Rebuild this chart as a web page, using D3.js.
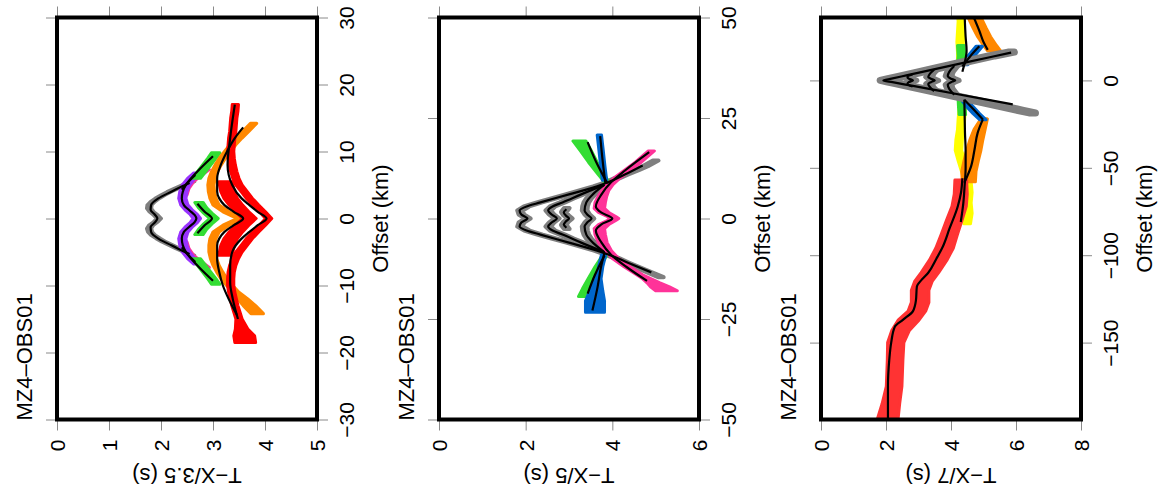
<!DOCTYPE html>
<html>
<head>
<meta charset="utf-8">
<script src="https://cdn.jsdelivr.net/npm/d3@7"></script>
<style>
  body { margin: 0; background: #fff; }
  svg { display: block; font-family: 'Liberation Sans', Arial, Helvetica, sans-serif; }
  .tick line { stroke: #8a8a8a; stroke-width: 1; }
</style>
</head>
<body>
<svg id="fig" width="1164" height="498"></svg>
<script>
// ---------- data: [offset km, reduced time s, optional half error s] ----------
const stationName = "MZ4–OBS01";

// panel 1 : T-X/3.5
const p1TimeTicks = [0, 1, 2, 3, 4, 5];
const p1OffsetTicks = [-30, -20, -10, 0, 10, 20, 30];
const p1GrayPicks = [[-5.5,2.6],[-5,2.48],[-4.5,2.33],[-4,2.2],[-3.5,2.06],[-3,1.95],[-2.5,1.85],[-2,1.79],[-1.5,1.77],[-1,1.81],[-0.5,1.9],[0,1.96],[0.5,1.9],[1,1.82],[1.5,1.77],[2,1.78],[2.5,1.84],[3,1.93],[3.5,2.04],[4,2.16],[4.5,2.3],[5,2.45],[5.5,2.6]];
const p1PinkPicks = [[-7.3,2.86],[-6.5,2.72],[-5.5,2.56],[-4.5,2.47],[-3.5,2.43],null,[3.5,2.43],[4.5,2.47],[5.5,2.56],[6.5,2.72],[7.3,2.86]];
const p1PurplePicks = [[-6.8,2.7],[-6,2.58],[-5,2.48],[-4,2.43],[-3,2.41],[-2,2.45],[-1.3,2.53],[-0.6,2.63],[0,2.69],[0.6,2.63],[1.3,2.53],[2,2.45],[3,2.41],[4,2.43],[5,2.48],[6,2.58],[6.8,2.7]];
const p1GreenPicks = [[-9.8,3.05],[-9,2.98],[-8,2.88],[-7,2.78],[-6,2.68],null,[-2.4,2.73],[-1.6,2.8],[-0.8,2.9],[0,3.02],[0.8,2.9],[1.6,2.8],[2.4,2.73],null,[6,2.68],[7,2.78],[8,2.88],[9,2.98],[9.8,3.05]];
const p1OrangePicks = [[-14.2,3.85,0.12],[-13,3.7,0.12],[-12,3.57,0.1],[-11,3.44],[-10,3.32],[-9,3.21],[-8,3.13],[-7,3.06],[-6,3.01],[-5,2.98],[-4,2.98],[-3,3.0],[-2,3.06],[-1,3.25],[0,3.52],[1,3.25],[2,3.06],[3,3.0],[4,2.97],[5,2.96],[6,2.98],[7,3.03],[8,3.1],[9,3.18],[10,3.28],[11,3.38],[12,3.5],[13,3.63],[14.2,3.78]];
const p1RedInnerPicks = [[-5.5,3.24],[-4,3.28],[-3,3.34],[-2,3.44],[-1,3.56],[0,3.7],[1,3.56],[2,3.44],[3,3.34],[4,3.28],[5.5,3.24]];
const p1RedPicks = [[-18.5,3.62,0.2],[-17.5,3.6,0.2],[-16.5,3.55,0.12],[-15,3.5],[-14,3.46],[-13,3.42],[-12,3.39],[-11,3.36],[-10,3.34],[-9,3.34],[-8,3.35],[-7,3.38],[-6,3.43],[-5,3.5],[-4,3.6],[-3,3.7],[-2,3.82],[-1,3.95],[0,4.07],[1,3.95],[2,3.82],[3,3.7],[4,3.6],[5,3.5],[6,3.44],[7,3.4],[8,3.37],[9,3.35],[10,3.34],[11,3.35],[12,3.36],[13,3.38],[14,3.39],[15,3.4],[16,3.42],[17,3.43]];
const p1GrayModel = [[-5.3,2.55],[-4.5,2.33],[-4,2.2],[-3,1.95],[-2,1.81],[-1.3,1.8],[-0.6,1.88],[0,1.93],[0.6,1.88],[1.3,1.8],[2,1.81],[3,1.95],[4,2.2],[4.5,2.33],[5.3,2.55]];
const p1PurpleModel = [[-6.5,2.66],[-5,2.48],[-4,2.42],[-3,2.4],[-2,2.44],[-1.2,2.55],[-0.5,2.65],[0,2.68],[0.5,2.65],[1.2,2.55],[2,2.44],[3,2.4],[4,2.42],[5,2.48],[6.5,2.66]];
const p1GreenModel = [[-9.3,3.0],[-7.5,2.76],[-6,2.58],[-4.3,2.4],null,[-2.2,2.7],[-1,2.84],[0,2.98],[1,2.84],[2.2,2.7],null,[4.3,2.4],[6,2.58],[7.5,2.76],[9.3,3.0]];
const p1OrangeModel = [[-14.4,3.46],[-12,3.3],[-10,3.19],[-8,3.12],[-6,3.08],[-4,3.08],[-3,3.12],[-2,3.22],[-1,3.4],[0,3.58],[1,3.4],[2,3.22],[3,3.12],[4,3.08],[6,3.08],[8,3.15],[10,3.27],[12,3.42],[13.6,3.58]];
const p1RedModel = [[-15,3.48],[-12,3.38],[-9.5,3.33],[-7,3.33],[-5,3.37],[-3,3.55],[-2,3.7],[-1,3.86],[0,4.03],[1,3.86],[2,3.7],[3,3.55],[5,3.37],[8,3.28],[12,3.33],[17,3.42]];

// panel 2 : T-X/5
const p2TimeTicks = [0, 2, 4, 6];
const p2OffsetTicks = [-50, -25, 0, 25, 50];
const p2GrayPicks1 = [[-14.6,5.12],[-13,4.77],[-12,4.55],[-11,4.33],[-10,4.12],[-9,3.9],[-8,3.64],[-7,3.32],[-6,3.0],[-5,2.66],[-4,2.33],[-3,2.03],[-2,1.87],[-1,1.9],[0,2.05],[1,1.9],[2,1.87],[3,2.02],[4,2.32],[5,2.65],[6,2.98],[7,3.3],[8,3.62],[9,3.9],[10,4.1],[11,4.32],[12,4.55],[13,4.76],[14.4,5.0]];
const p2GrayPicks2 = [[-8,3.75],[-7,3.5],[-6,3.28],[-5,3.05],[-4,2.85],[-3,2.62],[-2,2.52],[-1,2.6],[0,2.72],[1,2.6],[2,2.52],[3,2.62],[4,2.85],[5,3.05],[6,3.28],[7,3.5],[8,3.75]];
const p2GrayPicks3 = [[-2.6,2.95],[-1.6,2.88],[-0.8,2.93],[0,3.02],[0.8,2.93],[1.6,2.88],[2.6,2.95]];
const p2GrayPicks4 = [[-8.4,3.82],[-7,3.66],[-6,3.55],[-5,3.46],[-4,3.4],[-3,3.37],[-2,3.36],[-1,3.42],[0,3.52],[1,3.42],[2,3.36],[3,3.37],[4,3.4],[5,3.46],[6,3.55],[7,3.66],[8.4,3.82]];
const p2GreenPicks = [[-19.4,3.35,0.13],[-17.5,3.42,0.11],[-15,3.52,0.08],[-12,3.66,0.06],[-9.2,3.82,0.05],null,[8.6,3.9,0.05],[11,3.74,0.07],[14,3.55,0.1],[17,3.38,0.13],[19.3,3.24,0.15]];
const p2BluePicks = [[-23.3,3.6,0.22],[-20.5,3.6,0.22],[-18,3.63,0.15],[-15,3.68,0.06],[-12,3.73,0.05],[-9,3.8,0.05],null,[9.5,3.82,0.05],[13,3.78,0.05],[17,3.74,0.05],[20.8,3.7,0.05]];
const p2PinkPicks = [[-18,5.25,0.25],[-17,5.1,0.22],[-16,4.95,0.15],[-15,4.8,0.1],[-14,4.63,0.07],[-12,4.34,0.07],[-10,4.08,0.07],[-8,3.9,0.08],[-6,3.78,0.1],[-4,3.72,0.12],[-2.5,3.7,0.12],[-1.5,3.8,0.12],[-0.5,3.98,0.1],[0,4.05,0.1],[0.5,3.98,0.1],[1.5,3.8,0.12],[2.5,3.7,0.12],[4,3.72,0.12],[5.5,3.77,0.1],[7,3.84,0.08],[8.5,3.95,0.07],[10,4.1,0.07],[12,4.35,0.07],[14,4.6,0.07],[16.8,4.9,0.07]];
const p2GrayModel1 = [[-13.4,4.9],[-11,4.36],[-9,3.92],[-8,3.65],[-6,3.0],[-4,2.34],[-3,2.02],[-2,1.86],[-1,1.9],[0,2.04],[1,1.9],[2,1.86],[3,2.02],[4,2.34],[6,3.0],[8,3.65],[9,3.9],[11,4.3],[13.2,4.7]];
const p2GrayModel2 = [[-8.3,3.8],[-6,3.28],[-4,2.85],[-3,2.62],[-2,2.52],[-1,2.6],[0,2.72],[1,2.6],[2,2.52],[3,2.62],[4,2.85],[6,3.28],[8.3,3.8]];
const p2GrayModel3 = [[-2.3,2.94],[-1.5,2.88],[-0.7,2.93],[0,3.0],[0.7,2.93],[1.5,2.88],[2.3,2.94]];
const p2GrayModel4 = [[-8.4,3.82],[-6,3.55],[-4,3.4],[-2,3.36],[-1,3.42],[0,3.52],[1,3.42],[2,3.36],[4,3.4],[6,3.55],[8.4,3.82]];
const p2PinkModel = [[-15.5,4.8],[-12,4.32],[-9,3.97],[-6,3.75],[-3,3.62],[-1.5,3.74],[0,4.0],[1.5,3.74],[3,3.62],[6,3.75],[9,3.97],[12,4.3],[16.5,4.85]];
const p2GreenModel = [[-18.7,3.43],[-14,3.6],[-9.2,3.82],null,[8.7,3.89],[14,3.63],[19,3.43]];
const p2BlueModel = [[-22.9,3.54],[-17,3.66],[-12,3.74],[-8.5,3.82],null,[8.7,3.84],[14,3.78],[20.5,3.72]];

// panel 3 : T-X/7
const p3TimeTicks = [0, 2, 4, 6, 8];
const p3OffsetTicks = [-150, -100, -50, 0];
const p3YellowPicks = [[-82,4.5],[-76,4.55],[-70,4.52],[-64,4.55],[-58,4.52],[-52,4.42],[-46,4.32],[-40,4.23],[-34,4.25],[-28,4.3],[-22,4.32],[-16,4.35],null,[10,4.3],[16,4.3],[22,4.28],[28,4.3],[34,4.32],[37,4.3]];
const p3OrangePicks = [[-58,4.55,0.2],[-52,4.55,0.22],[-46,4.62,0.22],[-40,4.7,0.22],[-34,4.78,0.2],[-28,4.88,0.17],[-22,5.02,0.1],null,[17,5.32,0.2],[20,5.2,0.2],[25,5.02,0.2],[30,4.88,0.2],[37,4.7,0.2]];
const p3RedPicks = [[-194,2.05,0.32],[-185,2.15,0.27],[-175,2.25,0.24],[-160,2.28,0.24],[-150,2.3,0.25],[-143,2.45,0.27],[-137,2.7,0.32],[-132,2.95,0.27],[-127,3.05,0.27],[-120,3.05,0.27],[-115,3.15,0.27],[-110,3.35,0.27],[-103,3.6,0.27],[-96,3.8,0.27],[-88,3.95,0.25],[-80,4.1,0.24],[-72,4.25,0.22],[-65,4.3,0.2],[-57,4.3,0.18]];
const p3GreenPicks = [[-19.5,4.35],[-15,4.33],[-11,4.32],null,[9,4.3],[14,4.32],[20,4.3]];
const p3BluePicks = [[-22.5,4.98],[-19,4.78],[-15,4.58],[-12,4.45],null,[9,4.42],[14,4.62],[19.5,4.87]];
const p3GrayPicks = [[-18.6,6.5],[-17,6.1],[-15,5.61],[-12,4.87],[-9,4.13],[-6,3.4],[-4,2.9],[-2,2.41],[-1,2.15],[0,1.92],[1,2.15],[2,2.4],[4,2.88],[6,3.35],[8,3.82],[10,4.3],[12,4.77],[14,5.25],[16.2,5.85]];
const p3GrayW1 = [[-3.8,2.85],[-2,2.68],[-1,2.72],[0,2.85],[1,2.72],[2,2.68],[3.8,2.85]];
const p3GrayW2 = [[-6.5,3.5],[-4,3.38],[-2,3.32],[-1,3.4],[0,3.52],[1,3.4],[2,3.32],[4,3.38],[6.5,3.5]];
const p3GrayW3 = [[-8.5,4.12],[-5,3.97],[-2.5,3.92],[-1,4.02],[0,4.15],[1,4.02],[2.5,3.92],[5,3.97],[8.5,4.12]];
const p3RedModel = [[-194,2.06],[-175,2.06],[-160,2.1],[-150,2.16],[-141,2.27],[-137,2.52],[-132,2.83],[-126,2.92],[-118,2.95],[-114,3.1],[-110,3.3],[-102,3.55],[-95,3.75],[-85,3.95],[-72,4.21],[-64,4.31],[-56,4.35]];
const p3YellowModel = [[-81,4.3],[-70,4.38],[-60,4.42],[-50,4.45],[-40,4.45],[-30,4.43],[-20,4.42],[-11,4.41],null,[5,4.35],[10,4.42],[17,4.48],[25,4.45],[37,4.42]];
const p3BlueModel = [[-22.3,4.98],[-17,4.72],[-11,4.41],null,[8,4.35],[14,4.6],[19.5,4.87]];
const p3OrangeModel = [[-58.5,4.41],[-49,4.62],[-40,4.72],[-30,4.82],[-22.3,4.98],null,[17.5,5.13],[22,5.0],[28,4.88],[37,4.68]];
const p3GrayModel = [[-13.7,5.9],[-10,4.82],[-6,3.66],[-3,2.79],[-1,2.2],[0,1.92],[1,2.17],[3,2.66],[6,3.4],[10,4.38],[13,5.12],[15.9,5.85]];
const p3GrayModelW1 = [[-3.5,2.82],[-2,2.66],[-1,2.7],[0,2.83],[1,2.7],[2,2.66],[3.5,2.82]];
const p3GrayModelW2 = [[-6.2,3.48],[-4,3.36],[-2,3.3],[-1,3.38],[0,3.5],[1,3.38],[2,3.3],[4,3.36],[6.2,3.48]];
const p3GrayModelW3 = [[-8.2,4.1],[-5,3.95],[-2.5,3.9],[-1,4.0],[0,4.13],[1,4.0],[2.5,3.9],[5,3.95],[8.2,4.1]];

// ---------- drawing ----------
const COL = {
  gray: "#7f7f7f", pink: "#ff3399", purple: "#9933ff", green: "#33dd33",
  orange: "#ff8800", red: "#ff0000", red3: "#ff3333", yellow: "#ffff00", blue: "#0066cc"
};

// picks entries: [points, colour, outline width, default half error]
const panels = [
  { left: 57, tmax: 5, off: [-30, 30], err: 0.05, timeTicks: p1TimeTicks, offTicks: p1OffsetTicks, label: "T−X/3.5 (s)",
    picks: [[p1GrayPicks, COL.gray], [p1PinkPicks, COL.pink, 3, 0.07], [p1PurplePicks, COL.purple, 3, 0.07], [p1GreenPicks, COL.green, 3, 0.08],
            [p1OrangePicks, COL.orange, 3, 0.06], [p1RedInnerPicks, COL.red, 3, 0.13], [p1RedPicks, COL.red, 3, 0.06]],
    models: [p1GrayModel, p1PurpleModel, p1GreenModel, p1OrangeModel, p1RedModel] },
  { left: 439, tmax: 6, off: [-50, 50], err: 0.065, timeTicks: p2TimeTicks, offTicks: p2OffsetTicks, label: "T−X/5 (s)",
    picks: [[p2GrayPicks1, COL.gray, 4], [p2GrayPicks2, COL.gray, 4], [p2GrayPicks3, COL.gray, 4], [p2GrayPicks4, COL.gray, 4],
            [p2GreenPicks, COL.green], [p2BluePicks, COL.blue], [p2PinkPicks, COL.pink]],
    models: [p2GrayModel1, p2GrayModel2, p2GrayModel3, p2GrayModel4, p2PinkModel, p2GreenModel, p2BlueModel] },
  { left: 821, tmax: 8, off: [-194, 36], err: 0.1, timeTicks: p3TimeTicks, offTicks: p3OffsetTicks, label: "T−X/7 (s)",
    picks: [[p3YellowPicks, COL.yellow], [p3OrangePicks, COL.orange], [p3RedPicks, COL.red3], [p3GreenPicks, COL.green],
            [p3BluePicks, COL.blue], [p3GrayPicks, COL.gray, 7], [p3GrayW1, COL.gray, 5], [p3GrayW2, COL.gray, 5], [p3GrayW3, COL.gray, 5]],
    models: [p3RedModel, p3YellowModel, p3BlueModel, p3OrangeModel, p3GrayModel, p3GrayModelW1, p3GrayModelW2, p3GrayModelW3] }
];

const svg = d3.select("#fig");
const W = 260, H = 402, TOP = 17.5;

panels.forEach((p, i) => {
  const g = svg.append("g").attr("transform", `translate(${p.left},${TOP})`);
  const x = d3.scaleLinear().domain([0, p.tmax]).range([0, W]);
  const y = d3.scaleLinear().domain(p.off).range([H, 0]);

  g.append("clipPath").attr("id", "clip" + i)
    .append("rect").attr("width", W).attr("height", H);
  const plot = g.append("g").attr("clip-path", `url(#clip${i})`);

  // picks: band of +-error around each time
  p.picks.forEach(([pts, color, sw, se]) => {
    const e = d => (d.length > 2 ? d[2] : (se || p.err));
    const band = d3.area()
      .defined(d => d !== null)
      .y(d => y(d[0]))
      .x0(d => x(d[1] - e(d)))
      .x1(d => x(d[1] + e(d)));
    plot.append("path")
      .attr("d", band(pts))
      .attr("fill", color)
      .attr("stroke", color)
      .attr("stroke-width", sw || 3)
      .attr("stroke-linejoin", "round");
  });

  // model curves
  const line = d3.line()
    .defined(d => d !== null)
    .x(d => x(d[1]))
    .y(d => y(d[0]))
    .curve(d3.curveMonotoneY);
  p.models.forEach(m => {
    plot.append("path")
      .attr("d", line(m))
      .attr("fill", "none")
      .attr("stroke", "#000")
      .attr("stroke-width", 2.2)
      .attr("stroke-linejoin", "round");
  });

  // ticks on all four sides, labels bottom and right
  const bottom = g.append("g").attr("transform", `translate(0,${H})`)
    .call(d3.axisBottom(x).tickValues(p.timeTicks).tickSize(11).tickSizeOuter(0).tickFormat(d3.format("d")));
  bottom.selectAll("text")
    .attr("transform", "rotate(-90)")
    .attr("x", -20).attr("y", 0).attr("dy", "0.35em")
    .style("text-anchor", "end")
    .style("font-size", "21px").style("font-family", "inherit").attr("fill", "#000");

  const right = g.append("g").attr("transform", `translate(${W},0)`)
    .call(d3.axisRight(y).tickValues(p.offTicks).tickSize(11).tickSizeOuter(0));
  right.selectAll("text")
    .attr("transform", "rotate(-90)")
    .attr("x", 0).attr("y", 36.5).attr("dy", 0)
    .style("text-anchor", "middle")
    .style("font-size", "21px").style("font-family", "inherit").attr("fill", "#000");

  g.append("g").call(d3.axisTop(x).tickValues(p.timeTicks).tickSize(11).tickSizeOuter(0).tickFormat(""));
  g.append("g").call(d3.axisLeft(y).tickValues(p.offTicks).tickSize(11).tickSizeOuter(0).tickFormat(""));
  g.selectAll(".domain").remove();

  // frame
  g.append("rect").attr("width", W).attr("height", H)
    .attr("fill", "none").attr("stroke", "#000").attr("stroke-width", 4);

  // texts
  g.append("text")
    .attr("transform", `translate(-25,${H + 1}) rotate(-90)`)
    .style("font-size", "22px")
    .text(stationName);

  g.append("text")
    .attr("transform", `translate(${W / 2},${450.5}) rotate(180)`)
    .style("text-anchor", "middle")
    .style("font-size", "22px")
    .text(p.label);

  g.append("text")
    .attr("transform", `translate(${W + 71},${H / 2}) rotate(-90)`)
    .style("text-anchor", "middle")
    .style("font-size", "22px")
    .text("Offset (km)");
});
</script>
</body>
</html>
